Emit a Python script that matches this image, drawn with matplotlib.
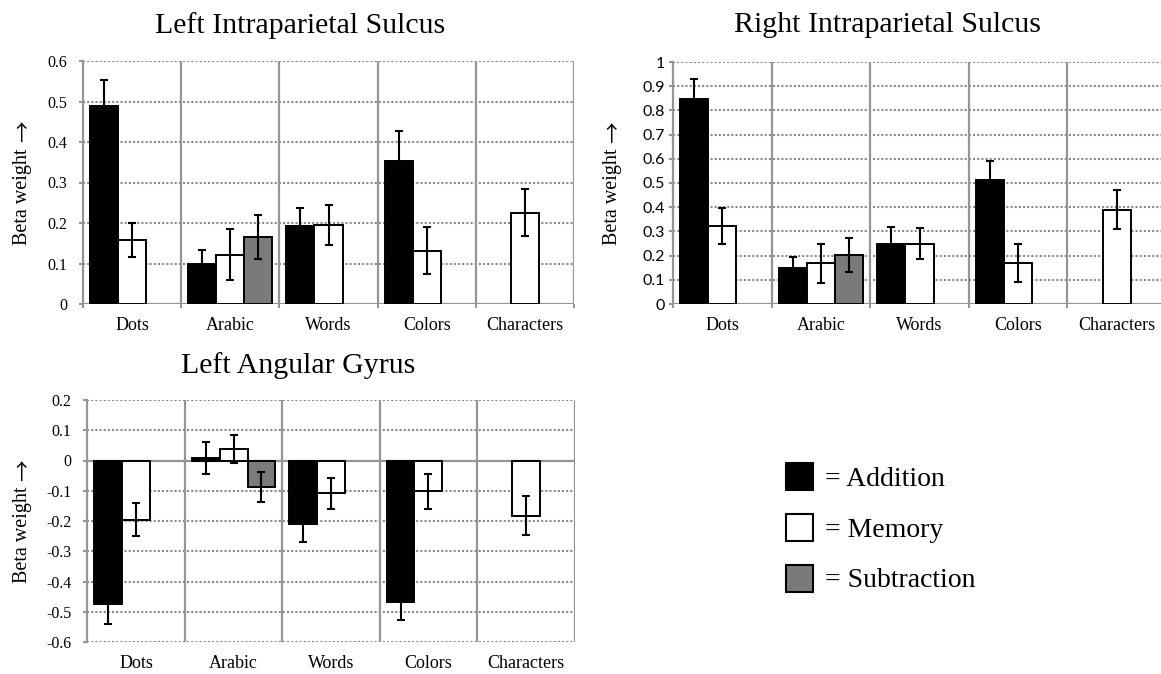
import numpy as np
import matplotlib
matplotlib.use('Agg')
import matplotlib.pyplot as plt
from matplotlib.patches import Rectangle

# Categories and conditions
categories = ['Dots', 'Arabic', 'Words', 'Colors', 'Characters']
conditions = ['Addition', 'Memory', 'Subtraction']
nan = np.nan

# Left Intraparietal Sulcus
lips_addition = [0.490, 0.099, 0.192, 0.353, nan]
lips_addition_err = [0.062, 0.035, 0.045, 0.073, nan]
lips_memory = [0.159, 0.122, 0.195, 0.132, 0.225]
lips_memory_err = [0.042, 0.063, 0.049, 0.058, 0.058]
lips_subtraction = [nan, 0.165, nan, nan, nan]
lips_subtraction_err = [nan, 0.054, nan, nan, nan]

# Right Intraparietal Sulcus
rips_addition = [0.846, 0.148, 0.246, 0.511, nan]
rips_addition_err = [0.085, 0.048, 0.071, 0.081, nan]
rips_memory = [0.324, 0.169, 0.249, 0.168, 0.390]
rips_memory_err = [0.074, 0.081, 0.065, 0.078, 0.080]
rips_subtraction = [nan, 0.203, nan, nan, nan]
rips_subtraction_err = [nan, 0.071, nan, nan, nan]

# Left Angular Gyrus
lag_addition = [-0.476, 0.007, -0.210, -0.467, nan]
lag_addition_err = [0.066, 0.053, 0.058, 0.061, nan]
lag_memory = [-0.196, 0.038, -0.108, -0.102, -0.182]
lag_memory_err = [0.055, 0.045, 0.051, 0.059, 0.063]
lag_subtraction = [nan, -0.087, nan, nan, nan]
lag_subtraction_err = [nan, 0.049, nan, nan, nan]

BAR_COLORS = ['black', 'white', '#7a7a7a']
GRID_GRAY = '#8a8a8a'
SEP_GRAY = '#959595'
SERIF = ['Liberation Serif', 'DejaVu Serif']
SANS = ['Lato', 'DejaVu Sans']

W, H = 1161, 674


def px_rect(x0, y_top, x1, y_bottom):
    """Convert pixel box (from top-left) to figure fractions."""
    return [x0 / W, 1 - y_bottom / H, (x1 - x0) / W, (y_bottom - y_top) / H]


def fmt_plain(v):
    s = f'{v:.1f}'
    if s in ('0.0', '-0.0'):
        return '0'
    if s == '1.0':
        return '1'
    return s


def draw_panel(ax, series, errors, ylim, yticks, tick_family, tick_pad, label_pad):
    n = len(categories)
    x = np.arange(n) + 0.5
    width = 1 / 3.5

    # grid: dotted horizontals, solid separators between categories
    for y in yticks:
        if y == 0:
            continue
        ax.axhline(y, color=GRID_GRAY, lw=1.5, ls=(0, (1.0, 1.0)), zorder=0)
    ax.axhline(0, color=SEP_GRAY, lw=1.6, zorder=1)
    for b in range(1, n + 1):
        ax.axvline(b, color=SEP_GRAY, lw=1.6, zorder=0)

    for k, (vals, errs) in enumerate(zip(series, errors)):
        vals = np.array(vals, dtype=float)
        errs = np.array(errs, dtype=float)
        ok = ~np.isnan(vals)
        xs = x[ok] + (k - 1) * width
        ax.bar(xs, vals[ok], width=width, color=BAR_COLORS[k],
               edgecolor='black', linewidth=1.4, zorder=2)
        ax.errorbar(xs, vals[ok], yerr=errs[ok], fmt='none', ecolor='black',
                    elinewidth=1.5, capsize=3.2, capthick=1.5, zorder=3)

    ax.set_xlim(0, n)
    ax.set_ylim(*ylim)
    ax.set_yticks(yticks)
    ax.set_yticklabels([fmt_plain(v) for v in yticks], family=tick_family,
                       fontsize=11.5)
    ax.set_xticks(x)
    ax.set_xticklabels(categories, family=SERIF, fontsize=13)
    ax.set_xticks(np.arange(n + 1), minor=True)
    ax.tick_params(axis='x', which='major', length=0, pad=label_pad)
    ax.tick_params(axis='x', which='minor', length=3, color=SEP_GRAY, width=1.5)
    ax.tick_params(axis='y', length=3, color=SEP_GRAY, width=1.5, pad=tick_pad)

    for side in ['top', 'right', 'bottom']:
        ax.spines[side].set_visible(False)
    ax.spines['left'].set_color(SEP_GRAY)
    ax.spines['left'].set_linewidth(1.6)


def add_ylabel(fig, xpix, center_pix):
    """'Beta weight' with an arrow pointing up, centered on the axes."""
    fig.text(xpix / W, 1 - (center_pix + 14) / H, 'Beta weight', rotation=90,
             ha='center', va='center', family=SERIF, fontsize=14.5)
    fig.text((xpix + 1) / W, 1 - (center_pix - 51) / H, '\u2192', rotation=90,
             ha='center', va='center',
             family=['Noto Sans CJK SC', 'DejaVu Sans'], fontsize=15.5)


def main():
    fig = plt.figure(figsize=(W / 100, H / 100), dpi=100)

    ax1 = fig.add_axes(px_rect(83, 61, 574, 304))
    draw_panel(ax1,
               [lips_addition, lips_memory, lips_subtraction],
               [lips_addition_err, lips_memory_err, lips_subtraction_err],
               (0, 0.6), np.round(np.arange(0, 0.61, 0.1), 1),
               SERIF, 8.5, 9)

    ax2 = fig.add_axes(px_rect(673, 62, 1166, 304))
    draw_panel(ax2,
               [rips_addition, rips_memory, rips_subtraction],
               [rips_addition_err, rips_memory_err, rips_subtraction_err],
               (0, 1.0), np.round(np.arange(0, 1.01, 0.1), 1),
               SANS, 2.5, 9)

    ax3 = fig.add_axes(px_rect(87.5, 400, 574.5, 642))
    draw_panel(ax3,
               [lag_addition, lag_memory, lag_subtraction],
               [lag_addition_err, lag_memory_err, lag_subtraction_err],
               (-0.6, 0.2), np.round(np.arange(-0.6, 0.21, 0.1), 1),
               SERIF, 8.5, 9)
    ax3.tick_params(axis='x', which='minor', length=0)

    # titles
    fig.text(300 / W, 1 - 33 / H, 'Left Intraparietal Sulcus', ha='center',
             va='baseline', family=SERIF, fontsize=21.5)
    fig.text(888 / W, 1 - 32 / H, 'Right Intraparietal Sulcus', ha='center',
             va='baseline', family=SERIF, fontsize=21.5)
    fig.text(298.5 / W, 1 - 373 / H, 'Left Angular Gyrus', ha='center',
             va='baseline', family=SERIF, fontsize=21.5)

    # y labels
    add_ylabel(fig, 23, 182.5)
    add_ylabel(fig, 613, 183)
    add_ylabel(fig, 23, 521)

    # legend
    legend_rows = [(463, 486), (514, 537), (565, 587)]
    for k, (top, base) in enumerate(legend_rows):
        fig.add_artist(Rectangle((786 / W, 1 - (top + 27) / H), 27 / W, 27 / H,
                                 transform=fig.transFigure,
                                 facecolor=BAR_COLORS[k], edgecolor='black',
                                 linewidth=1.5))
        fig.text(825 / W, 1 - base / H, '= ' + conditions[k], ha='left',
                 va='baseline', family=SERIF, fontsize=20)

    fig.savefig('out.png', dpi=100)
    plt.close(fig)


if __name__ == "__main__":
    main()
